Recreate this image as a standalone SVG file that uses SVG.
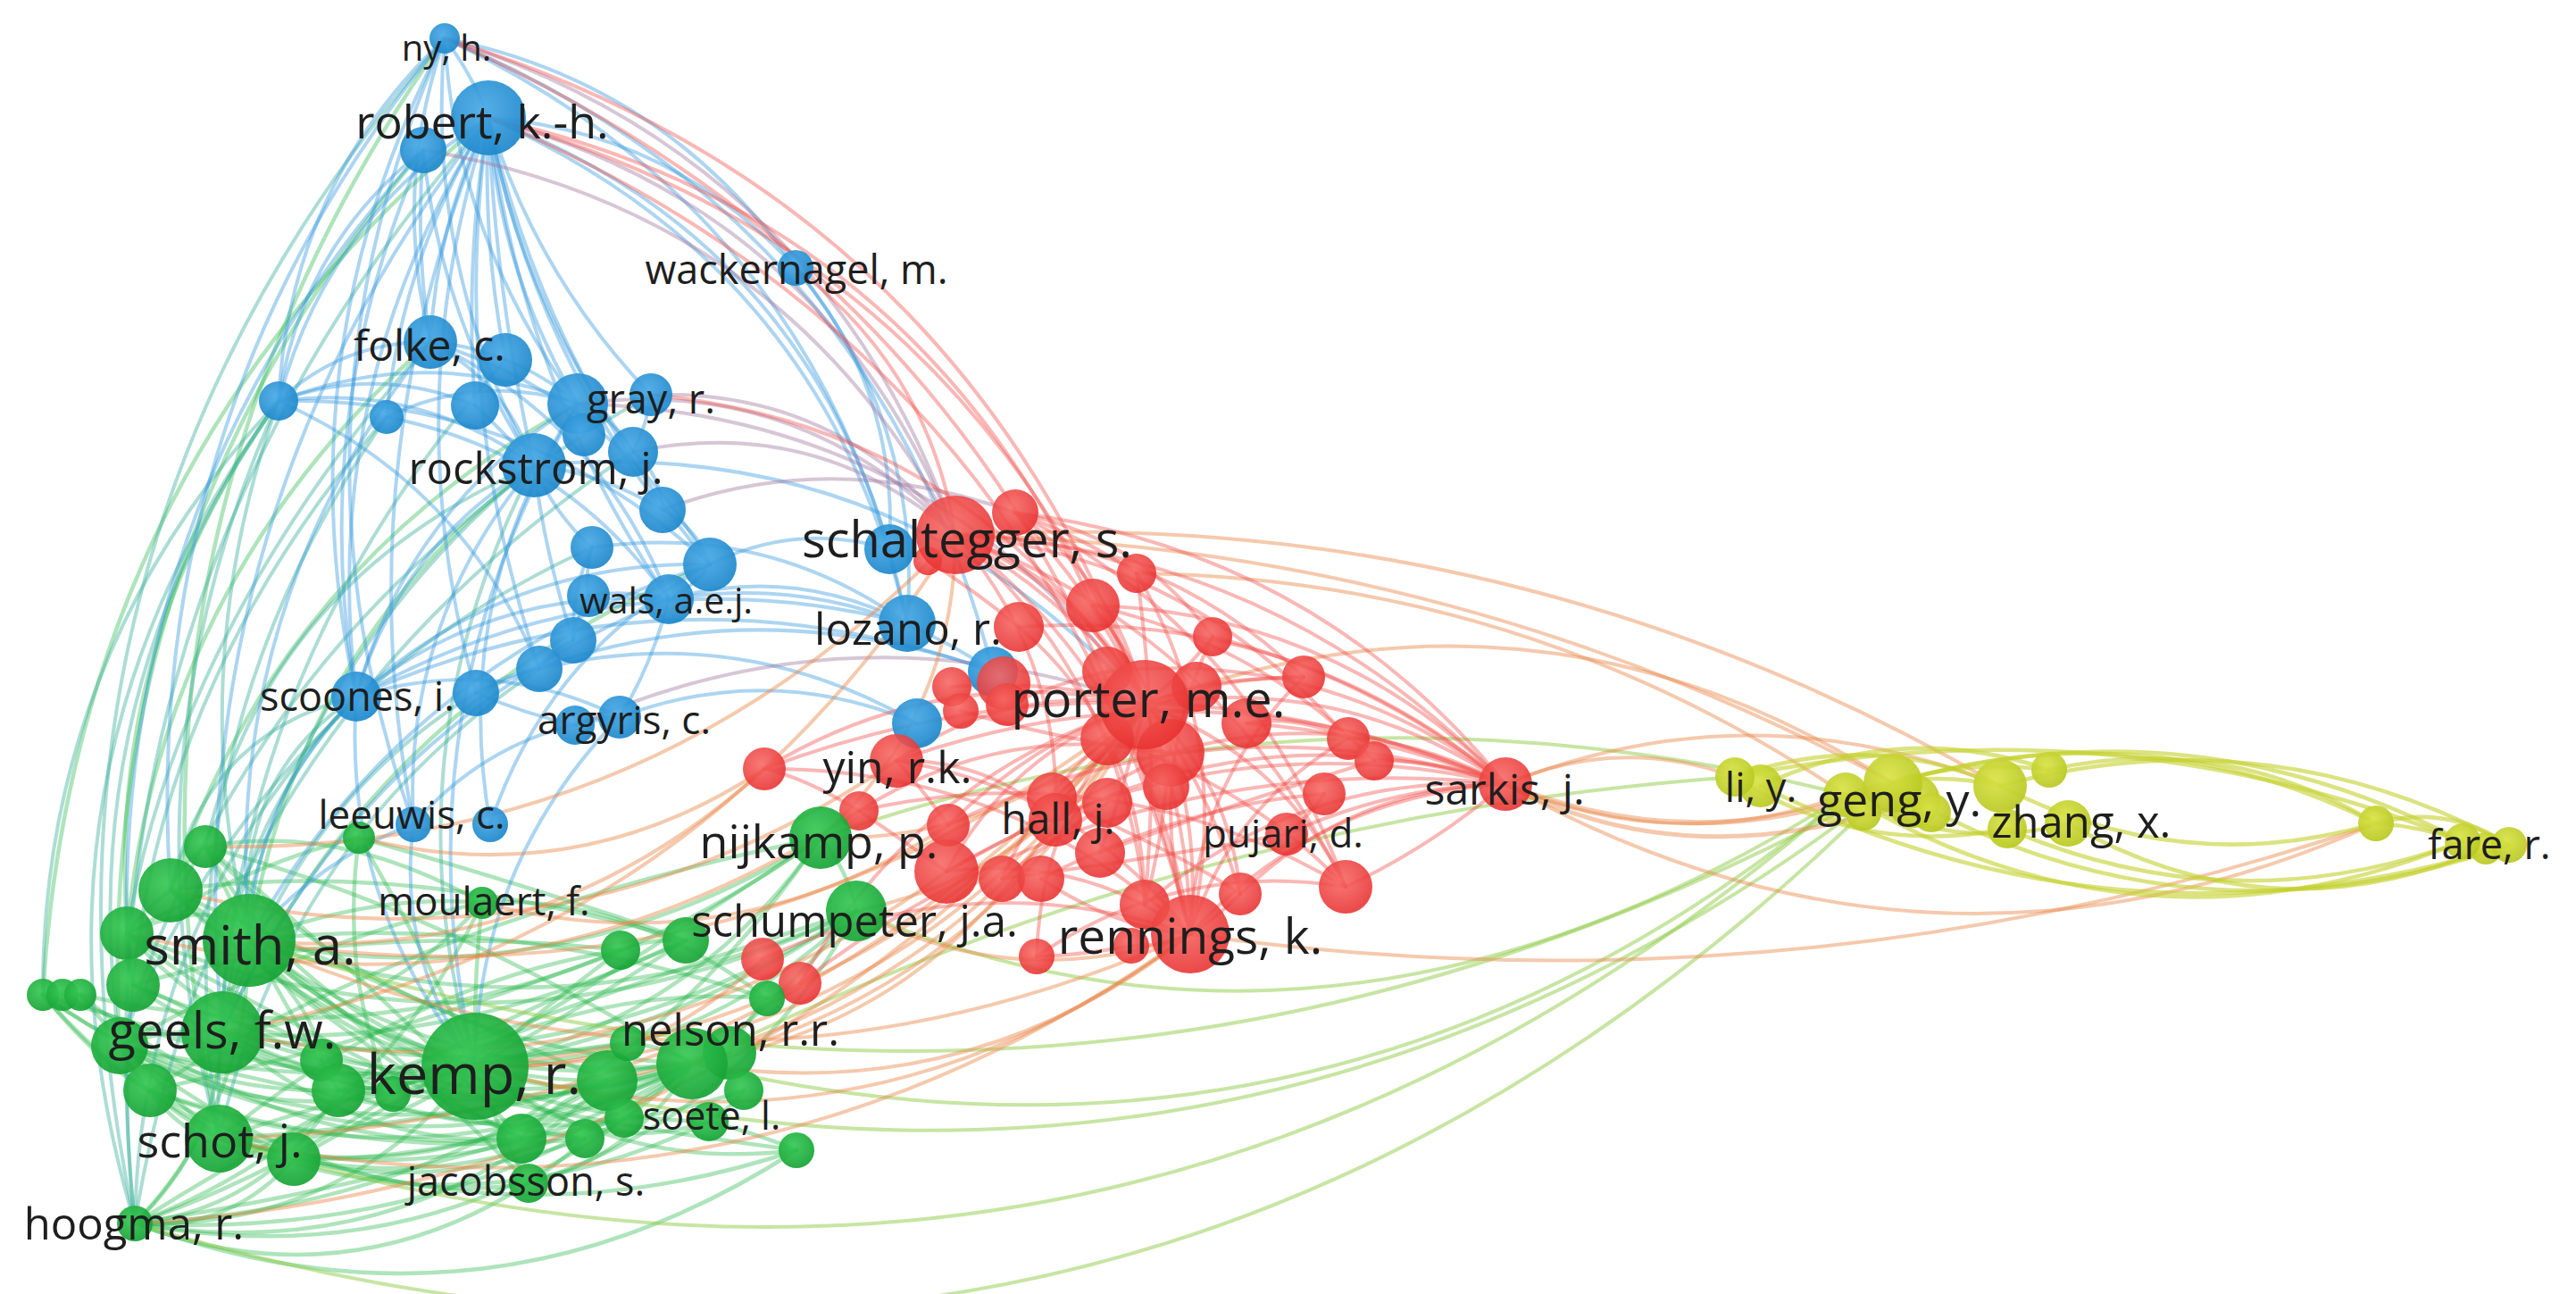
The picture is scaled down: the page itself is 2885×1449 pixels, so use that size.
<svg xmlns="http://www.w3.org/2000/svg" width="2885" height="1449" viewBox="0 0 2885 1449">
<style>
.e path{fill:none;stroke-width:4;stroke-linecap:round}
.eb path{stroke:#2f95dc;stroke-opacity:.4}
.er path{stroke:#ef4a45;stroke-opacity:.4}
.eg path{stroke:#2bb84c;stroke-opacity:.38;stroke-width:4.5}
.et path{stroke:#3aae9c;stroke-opacity:.42}
.eo path{stroke:#e8884a;stroke-opacity:.45}
.ep path{stroke:#a0789e;stroke-opacity:.42}
.ey path{stroke:#c3d12b;stroke-opacity:.6;stroke-width:4.5}
.el path{stroke:#8fcb48;stroke-opacity:.5}
.b{fill:url(#gB);fill-opacity:.92}
.r{fill:url(#gR);fill-opacity:.88}
.g{fill:url(#gG);fill-opacity:.92}
.y{fill:url(#gY);fill-opacity:.92}
text{font-family:"Open Sans","Liberation Sans",sans-serif;fill:#1e1e1e;text-anchor:middle;dominant-baseline:central}
</style>
<defs>
<radialGradient id="gB" cx="0.42" cy="0.38" r="0.65"><stop offset="0" stop-color="#48a9e6"/><stop offset="1" stop-color="#1b86ca"/></radialGradient>
<radialGradient id="gR" cx="0.42" cy="0.38" r="0.65"><stop offset="0" stop-color="#f66763"/><stop offset="1" stop-color="#e72e2d"/></radialGradient>
<radialGradient id="gG" cx="0.42" cy="0.38" r="0.65"><stop offset="0" stop-color="#36c854"/><stop offset="1" stop-color="#15a234"/></radialGradient>
<radialGradient id="gY" cx="0.42" cy="0.38" r="0.65"><stop offset="0" stop-color="#d8e345"/><stop offset="1" stop-color="#b8c720"/></radialGradient>
</defs>
<rect width="2885" height="1449" fill="#ffffff"/>
<g id="connectors">
<g class="e eg">
<path d="M151 1370 Q386 1377 532 1194"/><path d="M151 1370 Q508 1437 775 1191"/><path d="M151 1370 Q456 1422 680 1210"/><path d="M151 1370 Q383 1458 592 1325"/><path d="M151 1370 Q542 1514 892 1288"/><path d="M151 1370 Q643 1397 959 1020"/><path d="M151 1370 Q643 1346 919 938"/><path d="M151 1370 Q278 1238 279 1053"/><path d="M151 1370 Q243 1283 249 1156"/><path d="M151 1370 Q258 1379 329 1298"/><path d="M151 1370 Q302 1353 379 1221"/>
<path d="M134 1171 Q327 1283 532 1194"/><path d="M134 1171 Q450 1341 775 1191"/><path d="M48 1114 Q270 1275 532 1194"/><path d="M48 1114 Q340 1320 680 1210"/><path d="M149 1103 Q440 1304 775 1191"/><path d="M142 1045 Q300 1218 532 1194"/><path d="M191 997 Q434 1240 775 1191"/><path d="M279 1053 Q378 1175 532 1194"/><path d="M279 1053 Q499 1221 775 1191"/><path d="M279 1053 Q449 1212 680 1210"/><path d="M279 1053 Q626 1173 959 1020"/><path d="M279 1053 Q622 1124 919 938"/><path d="M249 1156 Q383 1232 532 1194"/><path d="M249 1156 Q505 1279 775 1191"/><path d="M249 1156 Q631 1230 959 1020"/><path d="M245 1275 Q405 1292 532 1194"/><path d="M245 1275 Q528 1350 775 1191"/><path d="M245 1275 Q524 1387 794 1256"/><path d="M245 1275 Q477 1339 680 1210"/><path d="M329 1298 Q576 1343 775 1191"/><path d="M532 1194 Q655 1242 775 1191"/><path d="M532 1194 Q781 1192 959 1020"/><path d="M532 1194 Q777 1143 919 938"/><path d="M532 1194 Q693 1313 892 1288"/><path d="M230 948 Q332 1131 532 1194"/><path d="M230 948 Q454 1179 775 1191"/><path d="M402 938 Q470 1050 532 1194"/><path d="M540 1011 Q530 1100 532 1194"/><path d="M249 1156 Q424 1142 540 1011"/><path d="M151 1370 Q418 1269 540 1011"/><path d="M592 1325 Q711 1295 775 1191"/><path d="M592 1325 Q837 1246 959 1020"/><path d="M168 1221 Q479 1340 775 1191"/><path d="M168 1221 Q515 1414 892 1288"/><path d="M134 1171 Q580 1278 959 1020"/><path d="M90 1114 Q534 1213 919 938"/><path d="M142 1045 Q557 1213 959 1020"/>
<path d="M230 948 Q200 970 191 997"/><path d="M191 997 Q160 1020 142 1045"/><path d="M142 1045 Q140 1075 149 1103"/><path d="M48 1114 Q69 1108 90 1114"/><path d="M149 1103 Q200 1120 249 1156"/><path d="M279 1053 Q260 1100 249 1156"/><path d="M134 1171 Q190 1150 249 1156"/><path d="M168 1221 Q200 1250 245 1275"/><path d="M249 1156 Q300 1170 360 1187"/><path d="M360 1187 Q370 1205 379 1221"/><path d="M379 1221 Q410 1225 440 1225"/><path d="M245 1275 Q290 1280 329 1298"/><path d="M584 1275 Q610 1240 680 1210"/><path d="M680 1210 Q730 1190 775 1191"/><path d="M775 1191 Q800 1180 817 1179"/><path d="M794 1256 Q820 1240 833 1221"/><path d="M703 1168 Q740 1170 775 1191"/><path d="M695 1064 Q730 1050 768 1053"/><path d="M859 1118 Q830 1150 817 1179"/><path d="M892 1288 Q850 1270 794 1256"/><path d="M592 1325 Q630 1300 655 1275"/><path d="M699 1252 Q680 1265 655 1275"/><path d="M919 938 Q950 975 959 1020"/>
<path d="M142 1045 Q330 1150 584 1275"/><path d="M191 997 Q420 1100 680 1210"/><path d="M230 948 Q500 1020 775 1191"/><path d="M279 1053 Q500 1250 794 1256"/><path d="M249 1156 Q450 1330 699 1252"/><path d="M134 1171 Q380 1360 592 1325"/><path d="M48 1114 Q300 1400 655 1275"/><path d="M90 1114 Q320 1300 584 1275"/><path d="M149 1103 Q400 1030 695 1064"/><path d="M191 997 Q450 960 768 1053"/><path d="M279 1053 Q560 1020 859 1118"/><path d="M245 1275 Q500 1190 703 1168"/><path d="M168 1221 Q450 1160 695 1064"/><path d="M151 1370 Q420 1200 768 1053"/><path d="M329 1298 Q600 1150 919 938"/><path d="M379 1221 Q650 1120 959 1020"/><path d="M440 1225 Q640 1100 859 1118"/><path d="M134 1171 Q350 1050 540 1011"/><path d="M230 948 Q380 920 540 1011"/><path d="M142 1045 Q300 960 402 938"/>
<path d="M191 997 Q400 1180 584 1275"/><path d="M142 1045 Q420 1260 680 1210"/><path d="M149 1103 Q420 1220 703 1168"/><path d="M134 1171 Q400 1240 655 1275"/><path d="M48 1114 Q260 1180 440 1225"/><path d="M70 1114 Q320 1230 532 1194"/><path d="M230 948 Q420 1100 584 1275"/><path d="M279 1053 Q430 1160 592 1325"/><path d="M249 1156 Q500 1180 768 1053"/><path d="M245 1275 Q520 1260 817 1179"/><path d="M168 1221 Q400 1300 655 1275"/><path d="M329 1298 Q560 1300 775 1191"/><path d="M379 1221 Q600 1300 833 1221"/><path d="M360 1187 Q600 1250 892 1288"/><path d="M191 997 Q350 1100 360 1187"/><path d="M230 948 Q300 1100 379 1221"/><path d="M402 938 Q380 1100 440 1225"/><path d="M402 938 Q620 1000 768 1053"/><path d="M540 1011 Q700 1000 859 1118"/><path d="M532 1194 Q620 1120 695 1064"/><path d="M532 1194 Q650 1130 768 1053"/><path d="M532 1194 Q660 1300 794 1256"/><path d="M532 1194 Q560 1270 592 1325"/><path d="M279 1053 Q420 1000 540 1011"/><path d="M142 1045 Q250 1000 279 1053"/><path d="M134 1171 Q200 1300 329 1298"/><path d="M48 1114 Q120 1200 168 1221"/><path d="M90 1114 Q160 1200 245 1275"/><path d="M151 1370 Q300 1320 440 1225"/><path d="M151 1370 Q400 1330 584 1275"/><path d="M245 1275 Q460 1100 695 1064"/><path d="M168 1221 Q470 1030 919 938"/>
<path d="M191 997 Q310 634 647 452"/><path d="M279 1053 Q333 723 598 521"/><path d="M249 1156 Q417 785 795 632"/><path d="M142 1045 Q180 646 482 383"/><path d="M149 1103 Q100 743 312 449"/><path d="M134 1171 Q103 602 474 168"/><path d="M245 1275 Q101 603 498 43"/><path d="M48 1114 Q82 513 547 132"/>
</g>
<g class="e el">
<path d="M151 1370 Q1284 1715 2120 877"/><path d="M245 1275 Q1264 1593 2067 890"/><path d="M532 1194 Q1405 1433 2120 877"/><path d="M775 1191 Q1496 1364 2067 890"/><path d="M279 1053 Q1239 1370 2120 877"/><path d="M919 938 Q1486 742 2067 890"/><path d="M775 1191 Q1327 914 1943 870"/><path d="M959 1020 Q1500 1250 2067 890"/>
</g>
<g class="e et">
<path d="M151 1370 Q-8 619 498 43"/><path d="M151 1370 Q1 870 312 449"/><path d="M48 1114 Q47 729 312 449"/><path d="M134 1171 Q79 774 312 449"/><path d="M279 1053 Q205 746 312 449"/><path d="M245 1275 Q130 850 312 449"/><path d="M151 1370 Q77 664 547 132"/><path d="M245 1275 Q177 833 433 467"/><path d="M151 1370 Q93 857 433 467"/><path d="M249 1156 Q297 769 598 521"/><path d="M245 1275 Q232 775 566 403"/><path d="M532 1194 Q430 845 598 521"/><path d="M249 1156 Q249 938 399 780"/><path d="M151 1370 Q157 1025 399 780"/><path d="M245 1275 Q320 940 604 749"/><path d="M134 1171 Q287 786 663 613"/><path d="M151 1370 Q240 815 709 506"/><path d="M134 1171 Q286 688 729 442"/>
<path d="M279 1053 Q260 870 399 780"/><path d="M191 997 Q230 820 399 780"/><path d="M142 1045 Q200 700 482 383"/><path d="M230 948 Q300 650 598 521"/><path d="M249 1156 Q330 900 533 776"/>
</g>
<g class="e eb">
<path d="M498 43 Q530 85 547 132"/><path d="M482 383 Q439 211 498 43"/><path d="M598 521 Q476 297 498 43"/><path d="M647 452 Q511 269 498 43"/><path d="M498 43 Q745 92 891 300"/><path d="M547 132 Q753 147 891 300"/><path d="M482 383 Q489 250 547 132"/><path d="M547 132 Q540 270 566 403"/><path d="M547 132 Q520 290 532 454"/><path d="M647 452 Q559 304 547 132"/><path d="M729 442 Q601 309 547 132"/><path d="M598 521 Q555 330 547 132"/><path d="M709 506 Q583 338 547 132"/><path d="M742 571 Q592 375 547 132"/><path d="M795 632 Q611 412 547 132"/><path d="M749 671 Q583 426 547 132"/><path d="M399 780 Q356 429 547 132"/><path d="M312 449 Q367 243 547 132"/><path d="M433 467 Q450 286 547 132"/><path d="M604 749 Q502 447 547 132"/><path d="M533 776 Q443 452 547 132"/><path d="M463 923 Q386 515 547 132"/><path d="M312 449 Q337 276 474 168"/><path d="M474 168 Q465 280 482 383"/><path d="M399 780 Q344 463 474 168"/><path d="M598 521 Q494 360 474 168"/><path d="M312 449 Q324 209 498 43"/><path d="M399 780 Q315 393 498 43"/><path d="M463 923 Q304 476 498 43"/>
<path d="M249 1156 Q193 584 547 132"/><path d="M142 1045 Q133 541 474 168"/><path d="M191 997 Q154 459 498 43"/><path d="M279 1053 Q247 677 482 383"/><path d="M532 1194 Q442 800 647 452"/><path d="M279 1053 Q284 893 399 780"/><path d="M532 1194 Q383 1014 399 780"/><path d="M532 1194 Q444 1073 463 923"/><path d="M279 1053 Q360 960 463 923"/><path d="M249 1156 Q402 814 749 671"/><path d="M279 1053 Q453 740 795 632"/><path d="M532 1194 Q535 967 694 803"/>
<path d="M482 383 Q522 385 566 403"/><path d="M312 449 Q384 382 482 383"/><path d="M312 449 Q423 408 532 454"/><path d="M312 449 Q481 384 647 452"/><path d="M433 467 Q537 417 647 452"/><path d="M312 449 Q469 428 598 521"/><path d="M482 383 Q568 429 598 521"/><path d="M566 403 Q610 420 647 452"/><path d="M532 454 Q560 480 598 521"/><path d="M647 452 Q690 470 709 506"/><path d="M647 452 Q645 470 654 487"/><path d="M729 442 Q725 475 709 506"/><path d="M598 521 Q675 530 742 571"/><path d="M598 521 Q620 575 663 613"/><path d="M709 506 Q740 530 742 571"/><path d="M742 571 Q780 590 795 632"/><path d="M663 613 Q655 640 659 667"/><path d="M795 632 Q780 655 749 671"/><path d="M659 667 Q700 660 749 671"/><path d="M659 667 Q645 690 642 717"/><path d="M642 717 Q615 730 604 749"/><path d="M604 749 Q565 755 533 776"/><path d="M533 776 Q590 800 644 812"/><path d="M644 812 Q670 800 694 803"/><path d="M749 671 Q730 745 694 803"/><path d="M663 613 Q640 660 642 717"/><path d="M598 521 Q610 620 642 717"/>
<path d="M399 780 Q447 611 598 521"/><path d="M399 780 Q457 566 647 452"/><path d="M399 780 Q567 627 795 632"/><path d="M399 780 Q552 656 749 671"/><path d="M399 780 Q552 733 694 803"/><path d="M463 923 Q555 817 694 803"/><path d="M463 923 Q451 695 598 521"/><path d="M549 923 Q614 729 795 632"/><path d="M549 923 Q504 668 647 452"/><path d="M482 383 Q689 445 795 632"/><path d="M482 383 Q674 474 749 671"/><path d="M312 449 Q591 444 795 632"/><path d="M312 449 Q518 541 604 749"/><path d="M433 467 Q632 506 749 671"/>
<path d="M547 132 Q893 262 996 615"/><path d="M547 132 Q924 298 1016 698"/><path d="M891 300 Q1034 474 1016 698"/><path d="M891 300 Q1007 437 996 615"/><path d="M498 43 Q921 241 1016 698"/><path d="M498 43 Q982 244 1112 752"/><path d="M598 521 Q1007 484 1282 789"/><path d="M749 671 Q888 632 1016 698"/><path d="M749 671 Q947 639 1112 752"/><path d="M795 632 Q893 584 996 615"/><path d="M399 780 Q692 616 1016 698"/><path d="M399 780 Q750 623 1112 752"/><path d="M694 803 Q862 740 1027 810"/><path d="M663 613 Q857 585 1016 698"/><path d="M604 749 Q828 695 1027 810"/><path d="M533 776 Q818 648 1112 752"/>
</g>
<g class="e ep">
<path d="M547 132 Q926 235 1070 599"/><path d="M498 43 Q923 178 1070 599"/><path d="M474 168 Q880 235 1070 599"/><path d="M647 452 Q896 420 1070 599"/><path d="M729 442 Q939 436 1070 599"/><path d="M647 452 Q1049 462 1282 789"/><path d="M709 506 Q913 463 1070 599"/><path d="M644 812 Q958 673 1282 789"/><path d="M742 571 Q930 500 1137 574"/>
</g>
<g class="e eo">
<path d="M532 1194 Q970 1320 1333 1046"/><path d="M532 1194 Q996 1157 1282 789"/><path d="M532 1194 Q918 1199 1182 918"/><path d="M279 1053 Q839 1142 1282 789"/><path d="M279 1053 Q808 1282 1333 1046"/><path d="M249 1156 Q695 1244 1060 976"/><path d="M249 1156 Q783 1059 1070 599"/><path d="M245 1275 Q839 1400 1333 1046"/><path d="M151 1370 Q845 1329 1282 789"/><path d="M775 1191 Q1117 1102 1282 789"/><path d="M775 1191 Q1086 1242 1333 1046"/><path d="M775 1191 Q1039 1145 1182 918"/><path d="M959 1020 Q1140 1115 1333 1046"/><path d="M959 1020 Q1172 976 1282 789"/><path d="M919 938 Q1070 802 1070 599"/><path d="M919 938 Q1134 944 1282 789"/><path d="M680 1210 Q1074 1132 1282 789"/><path d="M191 997 Q630 1104 1004 852"/><path d="M230 948 Q727 959 1070 599"/><path d="M402 938 Q646 1000 856 861"/><path d="M540 1011 Q820 1083 1062 924"/><path d="M532 1194 Q719 1205 854 1074"/><path d="M279 1053 Q610 1084 856 861"/><path d="M142 1045 Q582 1157 962 908"/><path d="M245 1275 Q871 1260 1282 789"/>
<path d="M1686 878 Q1903 965 2120 877" style="stroke-width:6"/><path d="M1686 878 Q1890 985 2143 897" style="stroke-width:5"/><path d="M1686 878 Q1874 960 2067 890"/><path d="M1686 878 Q1963 768 2240 880"/><path d="M1686 878 Q1813 823 1943 870"/><path d="M1282 789 Q1723 623 2120 877"/><path d="M1070 599 Q1697 564 2240 880"/><path d="M1333 1046 Q2012 1143 2661 922"/><path d="M1686 878 Q2163 1144 2661 922"/><path d="M1070 599 Q1628 612 2120 877"/><path d="M1273 642 Q1707 647 2067 890"/>
</g>
<g class="e er">
<path d="M547 132 Q1078 276 1282 789"/><path d="M547 132 Q1169 392 1333 1046"/><path d="M498 43 Q1077 220 1282 789"/><path d="M891 300 Q1041 414 1070 599"/><path d="M498 43 Q1167 336 1333 1046"/><path d="M547 132 Q1023 236 1224 678"/><path d="M729 442 Q1093 478 1282 789"/>
<path d="M1070 599 Q1214 652 1282 789"/><path d="M1070 599 Q1291 770 1333 1046"/><path d="M1070 599 Q1190 737 1182 918"/><path d="M1070 599 Q1434 616 1686 878"/><path d="M1070 599 Q1240 673 1311 843"/><path d="M1070 599 Q1259 764 1282 1013"/><path d="M1070 599 Q1368 709 1507 993"/><path d="M1137 574 Q1253 653 1282 789"/><path d="M1137 574 Q1329 771 1333 1046"/><path d="M1137 574 Q1473 616 1686 878"/><path d="M1004 852 Q1130 765 1282 789"/><path d="M1004 852 Q1208 883 1333 1046"/><path d="M1004 852 Q1106 849 1182 918"/><path d="M856 861 Q1055 740 1282 789"/><path d="M856 861 Q1132 859 1333 1046"/><path d="M856 861 Q1274 704 1686 878"/><path d="M962 908 Q1124 806 1311 843"/><path d="M962 908 Q1252 842 1507 993"/><path d="M1060 976 Q1134 839 1282 789"/><path d="M1060 976 Q1211 956 1333 1046"/><path d="M1060 976 Q1353 802 1686 878"/><path d="M1062 924 Q1228 761 1460 758"/><path d="M1122 984 Q1188 833 1340 769"/><path d="M1161 1071 Q1166 906 1282 789"/><path d="M1161 1071 Q1318 963 1507 993"/><path d="M1182 918 Q1426 797 1686 878"/><path d="M1282 789 Q1502 753 1686 878"/><path d="M1333 1046 Q1476 891 1686 878"/><path d="M1311 843 Q1506 786 1686 878"/><path d="M1224 678 Q1495 686 1686 878"/><path d="M1141 702 Q1449 681 1686 878"/><path d="M1240 752 Q1488 726 1686 878"/><path d="M1282 1013 Q1457 865 1686 878"/><path d="M1389 1001 Q1513 881 1686 878"/><path d="M1273 642 Q1384 832 1333 1046"/><path d="M1273 642 Q1300 830 1282 1013"/><path d="M1224 678 Q1353 840 1333 1046"/><path d="M1333 1046 Q1279 875 1358 713"/><path d="M1282 789 Q1436 846 1507 993"/><path d="M1282 789 Q1378 874 1389 1001"/><path d="M1333 1046 Q1339 877 1460 758"/><path d="M1333 1046 Q1378 902 1510 827"/><path d="M1070 599 Q1310 736 1389 1001"/><path d="M1137 574 Q1406 710 1507 993"/><path d="M1070 599 Q1336 625 1510 827"/><path d="M1070 599 Q1297 601 1460 758"/><path d="M1137 574 Q1276 600 1358 713"/><path d="M854 1074 Q1088 964 1333 1046"/><path d="M896 1101 Q1027 868 1282 789"/><path d="M896 1101 Q1246 832 1686 878"/><path d="M1004 852 Q1350 729 1686 878"/><path d="M1062 924 Q1365 776 1686 878"/>
<path d="M1066 769 Q1170 760 1282 789"/><path d="M1076 796 Q1190 830 1311 843"/><path d="M1128 789 Q1185 765 1240 752"/><path d="M1039 628 Q1090 660 1141 702"/><path d="M1137 574 Q1210 600 1273 642"/><path d="M1224 678 Q1260 720 1282 789"/><path d="M1358 713 Q1330 750 1282 789"/><path d="M1460 758 Q1380 760 1340 769"/><path d="M1510 827 Q1450 800 1396 810"/><path d="M1178 893 Q1240 850 1282 789"/><path d="M1232 955 Q1260 880 1282 789"/><path d="M1122 984 Q1180 940 1240 899"/><path d="M1166 984 Q1250 1040 1333 1046"/><path d="M1389 1001 Q1360 1030 1333 1046"/><path d="M1483 889 Q1470 910 1441 934"/><path d="M1306 881 Q1300 950 1282 1013"/><path d="M962 908 Q1010 940 1060 976"/><path d="M1004 852 Q1030 880 1062 924"/><path d="M856 861 Q900 870 962 908"/><path d="M1267 1059 Q1300 1060 1333 1046"/><path d="M1161 1071 Q1210 1070 1267 1059"/><path d="M1539 852 Q1610 850 1686 878"/><path d="M1507 993 Q1600 950 1686 878"/><path d="M1441 934 Q1560 880 1686 878"/><path d="M1396 810 Q1540 820 1686 878"/><path d="M1358 713 Q1540 760 1686 878"/>
<path d="M1060 976 Q1200 900 1311 843"/><path d="M1122 984 Q1300 960 1441 934"/><path d="M1166 984 Q1330 900 1483 889"/><path d="M1232 955 Q1380 900 1539 852"/><path d="M1240 827 Q1400 880 1507 993"/><path d="M1141 702 Q1280 820 1282 1013"/><path d="M1224 678 Q1410 720 1539 852"/><path d="M1178 893 Q1330 960 1389 1001"/>
</g>
<g class="e ey">
<path d="M2120 877 Q2452 782 2758 942"/><path d="M2240 880 Q2538 799 2810 946"/><path d="M2316 922 Q2543 1053 2784 950"/><path d="M2143 897 Q2466 1069 2810 946"/><path d="M2067 890 Q2400 1089 2758 942"/><path d="M2295 862 Q2490 819 2661 922"/><path d="M2240 880 Q2443 985 2661 922"/><path d="M2661 922 Q2710 925 2758 942"/><path d="M2661 922 Q2740 900 2810 946"/><path d="M1943 870 Q2362 784 2758 942"/><path d="M1972 880 Q2378 1081 2810 946"/><path d="M2120 877 Q2400 792 2661 922"/><path d="M2248 928 Q2500 1037 2758 942"/><path d="M1943 870 Q2094 816 2240 880"/><path d="M1972 880 Q2130 806 2295 862"/><path d="M2067 890 Q2186 956 2316 922"/><path d="M1943 870 Q2084 960 2248 928"/><path d="M2120 877 Q2200 850 2295 862"/><path d="M2067 890 Q2150 860 2240 880"/>
</g>
</g>
<g id="n-b3"><circle class="b" cx="474" cy="168" r="26"/></g>
<g id="n-b6"><circle class="b" cx="566" cy="403" r="30"/></g>
<g id="n-b7"><circle class="b" cx="312" cy="449" r="22"/></g>
<g id="n-b8"><circle class="b" cx="433" cy="467" r="19"/></g>
<g id="n-b9"><circle class="b" cx="532" cy="454" r="27"/></g>
<g id="n-b10"><circle class="b" cx="647" cy="452" r="34"/></g>
<g id="n-b12"><circle class="b" cx="654" cy="487" r="24"/></g>
<g id="n-b14"><circle class="b" cx="709" cy="506" r="28"/></g>
<g id="n-b15"><circle class="b" cx="742" cy="571" r="26"/></g>
<g id="n-b16"><circle class="b" cx="663" cy="613" r="24"/></g>
<g id="n-b17"><circle class="b" cx="795" cy="632" r="30"/></g>
<g id="n-b18"><circle class="b" cx="659" cy="667" r="24"/></g>
<g id="n-b20"><circle class="b" cx="642" cy="717" r="26"/></g>
<g id="n-b21"><circle class="b" cx="604" cy="749" r="26"/></g>
<g id="n-b23"><circle class="b" cx="533" cy="776" r="26"/></g>
<g id="n-b25"><circle class="b" cx="644" cy="812" r="22"/></g>
<g id="n-b27"><circle class="b" cx="549" cy="923" r="20"/></g>
<g id="n-b28"><circle class="b" cx="996" cy="615" r="28"/></g>
<g id="n-b30"><circle class="b" cx="1112" cy="752" r="28"/></g>
<g id="n-b31"><circle class="b" cx="1027" cy="810" r="28"/></g>
<g id="n-r2"><circle class="r" cx="1137" cy="574" r="26"/></g>
<g id="n-r3"><circle class="r" cx="1039" cy="628" r="16"/></g>
<g id="n-r4"><circle class="r" cx="1273" cy="642" r="22"/></g>
<g id="n-r5"><circle class="r" cx="1224" cy="678" r="30"/></g>
<g id="n-r6"><circle class="r" cx="1141" cy="702" r="28"/></g>
<g id="n-r7"><circle class="r" cx="1358" cy="713" r="22"/></g>
<g id="n-r8"><circle class="r" cx="1124" cy="765" r="30"/></g>
<g id="n-r9"><circle class="r" cx="1066" cy="769" r="22"/></g>
<g id="n-r10"><circle class="r" cx="1076" cy="796" r="20"/></g>
<g id="n-r11"><circle class="r" cx="1128" cy="789" r="24"/></g>
<g id="n-r13"><circle class="r" cx="1240" cy="752" r="28"/></g>
<g id="n-r14"><circle class="r" cx="1240" cy="827" r="30"/></g>
<g id="n-r15"><circle class="r" cx="1311" cy="843" r="38"/></g>
<g id="n-r16"><circle class="r" cx="1340" cy="769" r="28"/></g>
<g id="n-r17"><circle class="r" cx="1306" cy="881" r="26"/></g>
<g id="n-r18"><circle class="r" cx="1396" cy="810" r="28"/></g>
<g id="n-r19"><circle class="r" cx="1460" cy="758" r="24"/></g>
<g id="n-r20"><circle class="r" cx="1510" cy="827" r="24"/></g>
<g id="n-r21"><circle class="r" cx="1539" cy="852" r="22"/></g>
<g id="n-r23"><circle class="r" cx="962" cy="908" r="22"/></g>
<g id="n-r24"><circle class="r" cx="856" cy="861" r="24"/></g>
<g id="n-r25"><circle class="r" cx="1178" cy="893" r="28"/></g>
<g id="n-r27"><circle class="r" cx="1240" cy="899" r="28"/></g>
<g id="n-r28"><circle class="r" cx="1232" cy="955" r="28"/></g>
<g id="n-r29"><circle class="r" cx="1062" cy="924" r="24"/></g>
<g id="n-r30"><circle class="r" cx="1060" cy="976" r="36"/></g>
<g id="n-r31"><circle class="r" cx="1122" cy="984" r="26"/></g>
<g id="n-r32"><circle class="r" cx="1166" cy="984" r="26"/></g>
<g id="n-r33"><circle class="r" cx="1483" cy="889" r="24"/></g>
<g id="n-r35"><circle class="r" cx="1389" cy="1001" r="24"/></g>
<g id="n-r36"><circle class="r" cx="1507" cy="993" r="30"/></g>
<g id="n-r37"><circle class="r" cx="1282" cy="1013" r="28"/></g>
<g id="n-r39"><circle class="r" cx="1161" cy="1071" r="20"/></g>
<g id="n-r40"><circle class="r" cx="1267" cy="1059" r="20"/></g>
<g id="n-r42"><circle class="r" cx="854" cy="1074" r="24"/></g>
<g id="n-r43"><circle class="r" cx="896" cy="1101" r="24"/></g>
<g id="n-g1"><circle class="g" cx="402" cy="938" r="18"/></g>
<g id="n-g2"><circle class="g" cx="230" cy="948" r="24"/></g>
<g id="n-g3"><circle class="g" cx="191" cy="997" r="36"/></g>
<g id="n-g4"><circle class="g" cx="142" cy="1045" r="30"/></g>
<g id="n-g7"><circle class="g" cx="48" cy="1114" r="18"/></g>
<g id="n-g8"><circle class="g" cx="70" cy="1114" r="18"/></g>
<g id="n-g9"><circle class="g" cx="90" cy="1114" r="18"/></g>
<g id="n-g10"><circle class="g" cx="149" cy="1103" r="30"/></g>
<g id="n-g12"><circle class="g" cx="134" cy="1171" r="32"/></g>
<g id="n-g13"><circle class="g" cx="168" cy="1221" r="30"/></g>
<g id="n-g14"><circle class="g" cx="360" cy="1187" r="24"/></g>
<g id="n-g15"><circle class="g" cx="379" cy="1221" r="30"/></g>
<g id="n-g17"><circle class="g" cx="440" cy="1225" r="20"/></g>
<g id="n-g19"><circle class="g" cx="329" cy="1298" r="30"/></g>
<g id="n-g21"><circle class="g" cx="584" cy="1275" r="28"/></g>
<g id="n-g22"><circle class="g" cx="680" cy="1210" r="34"/></g>
<g id="n-g23"><circle class="g" cx="699" cy="1252" r="22"/></g>
<g id="n-g24"><circle class="g" cx="655" cy="1275" r="22"/></g>
<g id="n-g27"><circle class="g" cx="817" cy="1179" r="30"/></g>
<g id="n-g28"><circle class="g" cx="703" cy="1168" r="20"/></g>
<g id="n-g29"><circle class="g" cx="833" cy="1221" r="22"/></g>
<g id="n-g31"><circle class="g" cx="892" cy="1288" r="20"/></g>
<g id="n-g32"><circle class="g" cx="859" cy="1118" r="20"/></g>
<g id="n-g33"><circle class="g" cx="695" cy="1064" r="22"/></g>
<g id="n-g34"><circle class="g" cx="768" cy="1053" r="26"/></g>
<g id="n-y2"><circle class="y" cx="1972" cy="880" r="24"/></g>
<g id="n-y3"><circle class="y" cx="2067" cy="890" r="25"/></g>
<g id="n-y4"><circle class="y" cx="2087" cy="910" r="20"/></g>
<g id="n-y6"><circle class="y" cx="2143" cy="897" r="30"/></g>
<g id="n-y7"><circle class="y" cx="2163" cy="910" r="22"/></g>
<g id="n-y8"><circle class="y" cx="2240" cy="880" r="30"/></g>
<g id="n-y9"><circle class="y" cx="2295" cy="862" r="20"/></g>
<g id="n-y11"><circle class="y" cx="2248" cy="928" r="22"/></g>
<g id="n-y12"><circle class="y" cx="2661" cy="922" r="20"/></g>
<g id="n-y14"><circle class="y" cx="2784" cy="950" r="18"/></g>
<g id="n-y15"><circle class="y" cx="2810" cy="946" r="20"/></g>
<g id="n-ny"><circle class="b" cx="498" cy="43" r="17"/><text x="500" y="52" font-size="40">ny, h.</text></g>
<g id="n-robert"><circle class="b" cx="547" cy="132" r="42"/><text x="540" y="134" font-size="52">robert, k.-h.</text></g>
<g id="n-wackernagel"><circle class="b" cx="891" cy="300" r="20"/><text x="892" y="300" font-size="45">wackernagel, m.</text></g>
<g id="n-folke"><circle class="b" cx="482" cy="383" r="30"/><text x="481" y="385" font-size="48">folke, c.</text></g>
<g id="n-gray"><circle class="b" cx="729" cy="442" r="24"/><text x="729" y="445" font-size="45">gray, r.</text></g>
<g id="n-rockstrom"><circle class="b" cx="598" cy="521" r="36"/><text x="600" y="523" font-size="49">rockstrom, j.</text></g>
<g id="n-wals"><circle class="b" cx="749" cy="671" r="28"/><text x="746" y="671" font-size="41">wals, a.e.j.</text></g>
<g id="n-scoones"><circle class="b" cx="399" cy="780" r="28"/><text x="400" y="778" font-size="45">scoones, i.</text></g>
<g id="n-argyris"><circle class="b" cx="694" cy="803" r="24"/><text x="699" y="805" font-size="44">argyris, c.</text></g>
<g id="n-leeuwis"><circle class="b" cx="463" cy="923" r="20"/><text x="461" y="911" font-size="44">leeuwis, c.</text></g>
<g id="n-lozano"><circle class="b" cx="1016" cy="698" r="32"/><text x="1017" y="703" font-size="49">lozano, r.</text></g>
<g id="n-schaltegger"><circle class="r" cx="1070" cy="599" r="44"/><text x="1083" y="602" font-size="56">schaltegger, s.</text></g>
<g id="n-porter"><circle class="r" cx="1282" cy="789" r="50"/><text x="1286" y="781" font-size="56">porter, m.e.</text></g>
<g id="n-yin"><circle class="r" cx="1004" cy="852" r="30"/><text x="1005" y="858" font-size="50">yin, r.k.</text></g>
<g id="n-hall"><circle class="r" cx="1182" cy="918" r="30"/><text x="1185" y="916" font-size="47">hall, j.</text></g>
<g id="n-pujari"><circle class="r" cx="1441" cy="934" r="24"/><text x="1437" y="932" font-size="44">pujari, d.</text></g>
<g id="n-rennings"><circle class="r" cx="1333" cy="1046" r="44"/><text x="1333" y="1046" font-size="55">rennings, k.</text></g>
<g id="n-sarkis"><circle class="r" cx="1686" cy="878" r="30"/><text x="1685" y="882" font-size="48">sarkis, j.</text></g>
<g id="n-nijkamp"><circle class="g" cx="919" cy="938" r="35"/><text x="917" y="940" font-size="52">nijkamp, p.</text></g>
<g id="n-schumpeter"><circle class="g" cx="959" cy="1020" r="34"/><text x="957" y="1030" font-size="49">schumpeter, j.a.</text></g>
<g id="n-moulaert"><circle class="g" cx="540" cy="1011" r="18"/><text x="542" y="1008" font-size="44">moulaert, f.</text></g>
<g id="n-smith"><circle class="g" cx="279" cy="1053" r="52"/><text x="280" y="1057" font-size="60">smith, a.</text></g>
<g id="n-geels"><circle class="g" cx="249" cy="1156" r="46"/><text x="249" y="1152" font-size="56">geels, f.w.</text></g>
<g id="n-kemp"><circle class="g" cx="532" cy="1194" r="60"/><text x="531" y="1200" font-size="63">kemp, r.</text></g>
<g id="n-nelson"><circle class="g" cx="775" cy="1191" r="40"/><text x="818" y="1152" font-size="49">nelson, r.r.</text></g>
<g id="n-soete"><circle class="g" cx="794" cy="1256" r="22"/><text x="797" y="1248" font-size="43">soete, l.</text></g>
<g id="n-schot"><circle class="g" cx="245" cy="1275" r="38"/><text x="246" y="1275" font-size="52">schot, j.</text></g>
<g id="n-jacobsson"><circle class="g" cx="592" cy="1325" r="22"/><text x="589" y="1321" font-size="45">jacobsson, s.</text></g>
<g id="n-hoogma"><circle class="g" cx="151" cy="1370" r="20"/><text x="150" y="1369" font-size="49">hoogma, r.</text></g>
<g id="n-li"><circle class="y" cx="1943" cy="870" r="22"/><text x="1972" y="880" font-size="45">li, y.</text></g>
<g id="n-geng"><circle class="y" cx="2120" cy="877" r="33"/><text x="2127" y="893" font-size="52">geng, y.</text></g>
<g id="n-zhang"><circle class="y" cx="2316" cy="922" r="26"/><text x="2331" y="919" font-size="49">zhang, x.</text></g>
<g id="n-fare"><circle class="y" cx="2758" cy="942" r="20"/><text x="2788" y="944" font-size="45">fare, r.</text></g>
</svg>
